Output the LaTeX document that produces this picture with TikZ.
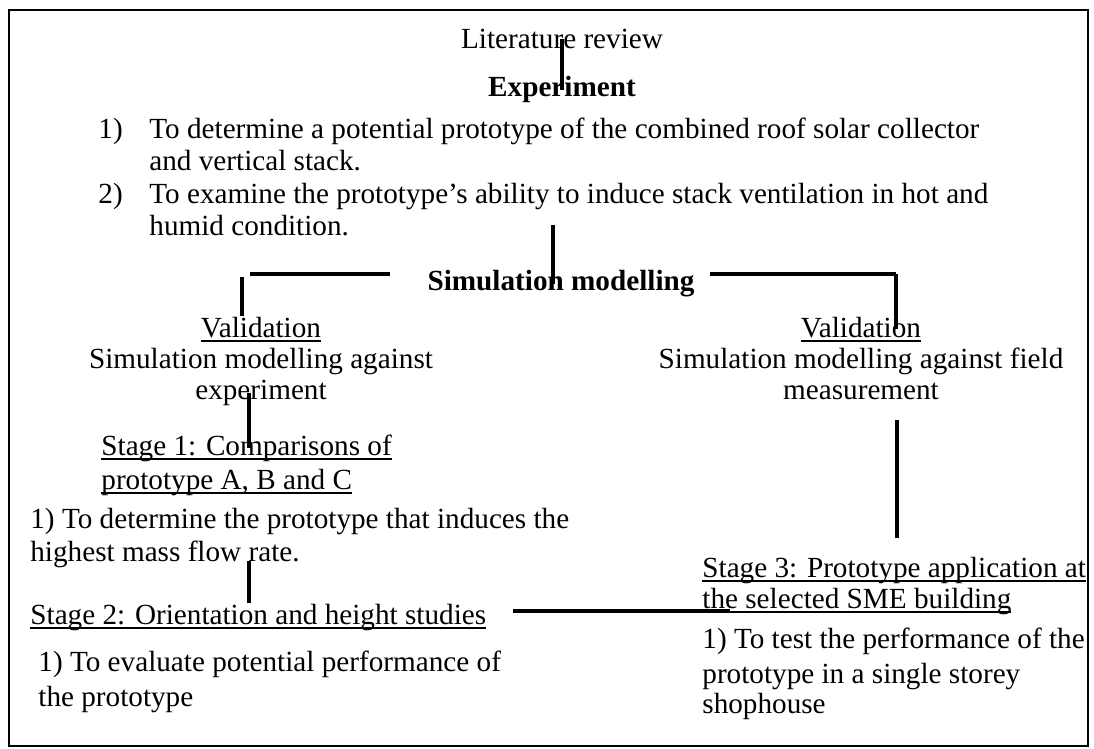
\documentclass[tikz,border=0pt]{standalone}
\usepackage{fontspec}
\setmainfont{Liberation Serif}
\newcommand{\uln}[1]{\setbox0=\hbox{#1}\rlap{\rule[-2.6pt]{\wd0}{1pt}}\box0}

\begin{document}
\begin{tikzpicture}[x=0.5pt,y=-0.5pt,
    txt/.style={inner sep=0pt,font=\fontsize{14.6}{16.5}\selectfont},
    lefttxt/.style={txt,anchor=base west},
    midtxt/.style={txt,anchor=base},
    link/.style={line width=1.6pt},
    bar/.style={line width=2pt}]
    \useasboundingbox (0,0) rectangle (1094,749);
    \draw[line width=1.3pt] (9,10) rectangle (1088,746);

    % nodes
    \node[midtxt] (lit) at (562,49) {Literature review};
    \node[midtxt] (expm) at (562,97) {\textbf{Experiment}};
    \node[lefttxt] (num1) at (98,139) {1)};
    \node[lefttxt] (aim1a) at (149,139) {To determine a potential prototype of the combined roof solar collector};
    \node[lefttxt] (aim1b) at (149,170) {and vertical stack.};
    \node[lefttxt] (num2) at (98,204) {2)};
    \node[lefttxt] (aim2a) at (149,204) {To examine the prototype’s ability to induce stack ventilation in hot and};
    \node[lefttxt] (aim2b) at (149,235) {humid condition.};
    \node[midtxt] (sim) at (561,291) {\textbf{Simulation modelling}};

    \node[midtxt] (valL) at (261,337) {\uln{Validation}};
    \node[midtxt] (valLa) at (261,368) {Simulation modelling against};
    \node[midtxt] (valLb) at (261,400) {experiment};
    \node[midtxt] (valR) at (861,337) {\uln{Validation}};
    \node[midtxt] (valRa) at (861,368) {Simulation modelling against field};
    \node[midtxt] (valRb) at (861,400) {measurement};

    \node[lefttxt] (st1a) at (101,455) {\uln{Stage 1: Comparisons of}};
    \node[lefttxt] (st1b) at (101,489) {\uln{prototype A, B and C}};
    \node[lefttxt] (aim3a) at (30,528) {1) To determine the prototype that induces the};
    \node[lefttxt] (aim3b) at (30,561) {highest mass flow rate.};
    \node[lefttxt] (st2) at (30,624) {\uln{Stage 2: Orientation and height studies}};
    \node[lefttxt] (aim4a) at (38,671) {1) To evaluate potential performance of};
    \node[lefttxt] (aim4b) at (38,706) {the prototype};

    \node[lefttxt] (st3a) at (702,577) {\uln{Stage 3: Prototype application at}};
    \node[lefttxt] (st3b) at (702,608) {\uln{the selected SME building}};
    \node[lefttxt] (aim5a) at (702,648) {1) To test the performance of the};
    \node[lefttxt] (aim5b) at (702,683) {prototype in a single storey};
    \node[lefttxt] (aim5c) at (702,713) {shophouse};

    % stems and bars
    \coordinate (stemA) at (553,0);
    \coordinate (stemL) at (242,277);
    \coordinate (stemE) at (249,0);
    \coordinate (barLa) at (250,274);
    \coordinate (barLb) at (390,274);
    \coordinate (barRa) at (710,274);
    \coordinate (barRb) at (896,274);
    \coordinate (dropR) at (897,420);
    \coordinate (dropRend) at (897,538);
    \coordinate (barSa) at (513,611);
    \coordinate (barSb) at (730,611);

    % paths
    \draw[link] (lit.center) -- (lit.center |- expm.center);
    \draw[link] (stemA |- aim2b.center) -- (stemA |- sim.center);
    \draw[bar] (barLa) -- (barLb);
    \draw[link] (stemL) -- (stemL |- valL.north);
    \draw[bar] (barRa) -- (barRb);
    \draw[link] (barRb) -- (barRb |- valR.center);
    \draw[link] (stemE |- valLb.center) -- (stemE |- st1a.center);
    \draw[link] (stemE |- aim3b.base) -- (stemE |- st2.north);
    \draw[link] (dropR) -- (dropRend);
    \draw[bar] (barSa) -- (barSb);
\end{tikzpicture}
\end{document}
